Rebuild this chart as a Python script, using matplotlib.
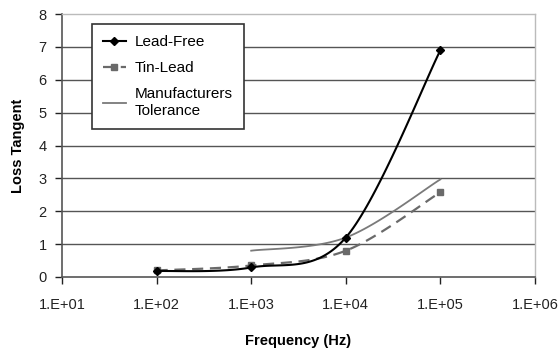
import numpy as np
import matplotlib
matplotlib.use("Agg")
import matplotlib.pyplot as plt

plt.rcParams['font.family'] = ['Liberation Sans', 'DejaVu Sans']

freq = [1e2, 1e3, 1e4, 1e5]
lead_free = [0.18, 0.29, 1.2, 6.9]
tin_lead = [0.2, 0.35, 0.8, 2.58]
tol_freq = [1e3, 1e4, 1e5]
tolerance = [0.8, 1.2, 2.97]
xticks = [1e1, 1e2, 1e3, 1e4, 1e5, 1e6]
xticklabels = ["1.E+01", "1.E+02", "1.E+03", "1.E+04", "1.E+05", "1.E+06"]
yticks = [0, 1, 2, 3, 4, 5, 6, 7, 8]


def smooth(xs, ys, n=40):
    """Excel-like smoothed line: Catmull-Rom Bezier in (log10 x, y) space."""
    u = np.log10(np.asarray(xs, float))
    y = np.asarray(ys, float)
    P = np.column_stack([u, y])
    m = len(P)
    out = []
    idx = []
    for i in range(m - 1):
        p0 = P[i - 1] if i > 0 else P[i]
        p1 = P[i]
        p2 = P[i + 1]
        p3 = P[i + 2] if i + 2 < m else P[i + 1]
        c1 = p1 + (p2 - p0) / 6.0
        c2 = p2 - (p3 - p1) / 6.0
        t = np.linspace(0, 1, n)[:, None]
        seg = ((1 - t) ** 3) * p1 + 3 * ((1 - t) ** 2) * t * c1 + 3 * (1 - t) * t ** 2 * c2 + t ** 3 * p2
        if i > 0:
            seg = seg[1:]
        idx.append(len(out) if i == 0 else len(out) - 1)
        out.extend(seg.tolist())
    idx.append(len(out) - 1)
    out = np.array(out)
    return 10 ** out[:, 0], out[:, 1], idx


fig = plt.figure(figsize=(5.59, 3.49), dpi=100)
ax = fig.add_axes([62 / 559, 1 - 277 / 349, 473 / 559, 263 / 349])

ax.set_xscale('log')
ax.set_xlim(1e1, 1e6)
ax.set_ylim(0, 8)

for yv in yticks[1:-1]:
    ax.axhline(yv, color='#555555', lw=1.0, zorder=1)

xs, ys, mk = smooth(freq, lead_free)
ax.plot(xs, ys, color='black', lw=1.5, marker='D', ms=4, markevery=mk,
        label='Lead-Free', zorder=4)

xs, ys, mk = smooth(freq, tin_lead)
ax.plot(xs, ys, color='#6a6a6a', lw=1.6, ls=(0, (5, 3)), marker='s', ms=5,
        markevery=mk, label='Tin-Lead', zorder=3)

xs, ys, mk = smooth(tol_freq, tolerance)
ax.plot(xs, ys, color='#7a7a7a', lw=1.3, label='Manufacturers\nTolerance', zorder=3)

ax.set_xticks(xticks)
ax.set_xticklabels(xticklabels)
ax.minorticks_off()
ax.set_yticks(yticks)
ax.tick_params(axis='both', labelsize=10.5, colors='#222222', direction='out',
               length=5, width=1.0)
ax.tick_params(axis='x', pad=10)
ax.tick_params(axis='y', pad=6)

for s in ['left', 'bottom']:
    ax.spines[s].set_color('#555555')
    ax.spines[s].set_linewidth(1.2)
for s in ['right', 'top']:
    ax.spines[s].set_color('#bbbbbb')
    ax.spines[s].set_linewidth(1.0)

ax.set_xlabel('Frequency (Hz)', fontsize=10.5, fontweight='bold', labelpad=16)
ax.set_ylabel('Loss Tangent', fontsize=10.5, fontweight='bold', labelpad=10)

leg = ax.legend(loc='upper left', bbox_to_anchor=(0.063, 0.962), fontsize=11,
                frameon=True, fancybox=False, handlelength=1.5, handletextpad=0.6,
                labelspacing=0.8, borderpad=0.72, borderaxespad=0)
leg.get_frame().set_edgecolor('#333333')
leg.get_frame().set_linewidth(1.2)
leg.get_frame().set_alpha(1)
leg.set_zorder(10)

fig.savefig('out.png', dpi=100)
